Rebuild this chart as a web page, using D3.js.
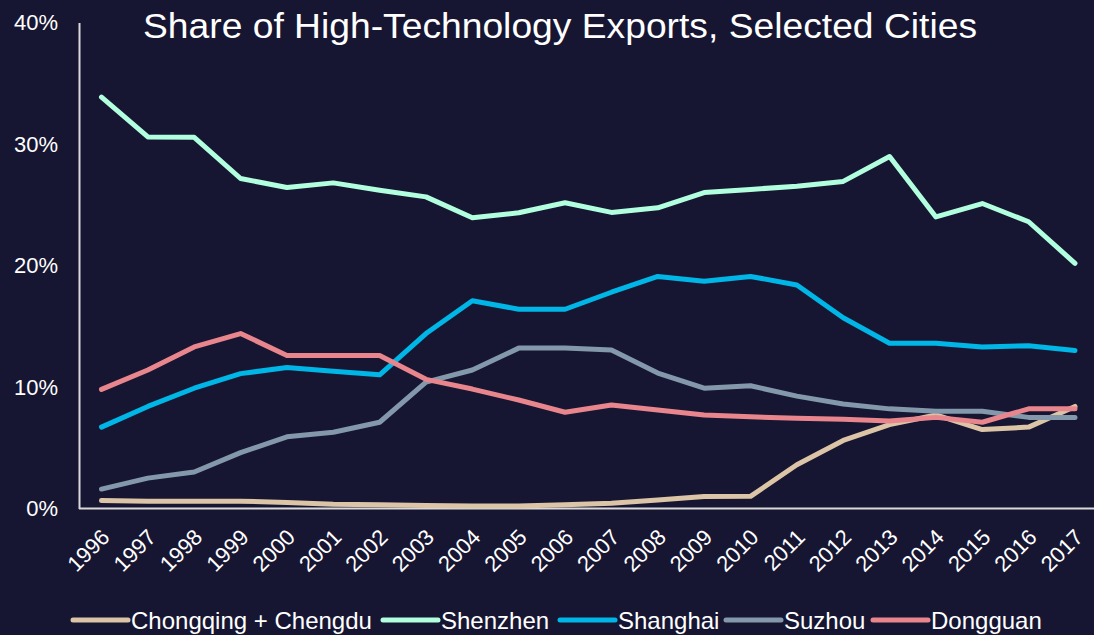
<!DOCTYPE html>
<html>
<head>
<meta charset="utf-8">
<script src="https://cdn.jsdelivr.net/npm/d3@7"></script>
<style>
  html, body { margin: 0; padding: 0; background: #171632; }
  svg { display: block; }
  text { font-family: "Liberation Sans", Arial, sans-serif; fill: #ffffff; }
</style>
</head>
<body>
<svg id="chart" width="1094" height="635"></svg>
<script>
// Years on the x axis
const years = d3.range(1996, 2018);

// Share of high-technology exports (%) by city
const chongqingChengdu = [0.65, 0.6, 0.6, 0.6, 0.5, 0.35, 0.3, 0.25, 0.2, 0.2, 0.3, 0.43, 0.7, 0.98, 1.0, 3.6, 5.6, 6.9, 7.7, 6.5, 6.7, 8.4];
const shenzhen = [33.86, 30.58, 30.55, 27.16, 26.42, 26.8, 26.2, 25.65, 23.93, 24.34, 25.16, 24.37, 24.75, 26.0, 26.26, 26.53, 26.92, 28.97, 24.0, 25.1, 23.6, 20.18];
const shanghai = [6.7, 8.4, 9.9, 11.1, 11.6, 11.3, 11.0, 14.4, 17.1, 16.4, 16.4, 17.8, 19.1, 18.7, 19.1, 18.4, 15.7, 13.6, 13.6, 13.3, 13.4, 13.0];
const suzhou = [1.6, 2.5, 3.0, 4.6, 5.9, 6.28, 7.1, 10.4, 11.4, 13.2, 13.2, 13.05, 11.15, 9.9, 10.1, 9.25, 8.6, 8.2, 8.0, 8.0, 7.5, 7.5];
const dongguan = [9.8, 11.4, 13.3, 14.4, 12.6, 12.6, 12.6, 10.63, 9.83, 8.93, 7.92, 8.52, 8.1, 7.7, 7.55, 7.42, 7.35, 7.2, 7.5, 7.1, 8.2, 8.2];

const seriesNames = ["Chongqing + Chengdu", "Shenzhen", "Shanghai", "Suzhou", "Dongguan"];
const seriesValues = [chongqingChengdu, shenzhen, shanghai, suzhou, dongguan];
const seriesColors = ["#dcc4a6", "#b2ffdf", "#00b6e6", "#8498ac", "#e9868d"];

const yTicks = [0, 10, 20, 30, 40];
const title = "Share of High-Technology Exports, Selected Cities";

const svg = d3.select("#chart");

const x = d3.scaleLinear().domain([1996, 2017]).range([101.5, 1075]);
const y = d3.scaleLinear().domain([0, 40]).range([508.5, 22.5]);

// Title
svg.append("text")
  .attr("x", 560).attr("y", 38)
  .attr("text-anchor", "middle")
  .attr("font-size", 35)
  .attr("textLength", 834)
  .attr("lengthAdjust", "spacingAndGlyphs")
  .text(title);

// Y axis
const yAxis = svg.append("g")
  .attr("transform", "translate(79,0)")
  .call(d3.axisLeft(y).tickValues(yTicks).tickSize(0).tickPadding(21).tickFormat(d => d + "%"));
yAxis.select(".domain").attr("stroke", "#d9d9d9").attr("stroke-width", 2);
yAxis.selectAll("text").attr("font-size", 22).attr("fill", "#ffffff")
  .attr("font-family", "Liberation Sans, Arial, sans-serif");

// X axis
const xAxis = svg.append("g")
  .attr("transform", "translate(0,508.5)")
  .call(d3.axisBottom(x).tickValues(years).tickSize(0).tickFormat(d3.format("d")));
xAxis.select(".domain").attr("stroke", "#d9d9d9").attr("stroke-width", 2)
  .attr("d", "M79,0H1094");
xAxis.selectAll("text")
  .attr("font-size", 22).attr("fill", "#ffffff")
  .attr("font-family", "Liberation Sans, Arial, sans-serif")
  .attr("text-anchor", "end")
  .attr("dy", null)
  .attr("transform", "translate(9,30) rotate(-45)")
  .attr("y", 0).attr("x", 0);

// Lines
const line = d3.line()
  .x((d, i) => x(years[i]))
  .y(d => y(d));

seriesValues.forEach((vals, k) => {
  svg.append("path")
    .datum(vals)
    .attr("fill", "none")
    .attr("stroke", seriesColors[k])
    .attr("stroke-width", 5)
    .attr("stroke-linecap", "round")
    .attr("stroke-linejoin", "round")
    .attr("d", line);
});

// Legend
const legendStarts = [73, 383, 560, 726, 873];
const legend = svg.append("g");
seriesNames.forEach((name, k) => {
  const g = legend.append("g").attr("transform", `translate(${legendStarts[k]},620)`);
  g.append("line")
    .attr("x1", 0).attr("x2", 55).attr("y1", 0).attr("y2", 0)
    .attr("stroke", seriesColors[k]).attr("stroke-width", 5).attr("stroke-linecap", "round");
  g.append("text")
    .attr("x", 58).attr("y", 8.5)
    .attr("font-size", 24)
    .text(name);
});
</script>
</body>
</html>
